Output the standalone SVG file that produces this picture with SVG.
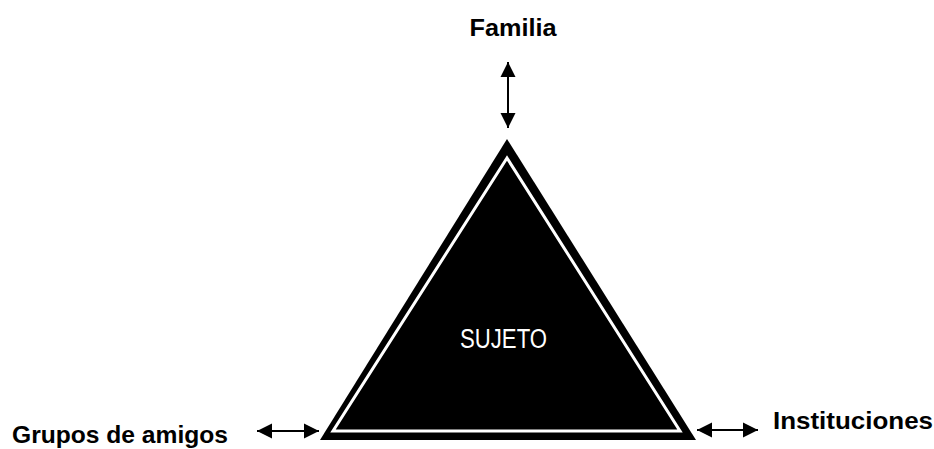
<svg xmlns="http://www.w3.org/2000/svg" width="934" height="449" viewBox="0 0 934 449">
<style>
.lbl{font-family:"Liberation Sans",Arial,sans-serif;font-weight:bold;font-size:24px;fill:#000}
.conn{stroke:#000;stroke-width:2;fill:none}
</style>
<defs>
<marker id="ah" viewBox="0 0 10 10" refX="10" refY="5" markerWidth="7.5" markerHeight="8" markerUnits="strokeWidth" orient="auto-start-reverse">
<path d="M0,0 L10,5 L0,10 z" fill="#000"/>
</marker>
</defs>
<rect width="934" height="449" fill="#fff"/>
<g id="sujeto">
<polygon points="507,139 320,440 696,440" fill="#000"/>
<polygon points="507,158 333,431 680,431" fill="#000" stroke="#fff" stroke-width="3"/>
<text x="503.5" y="348" text-anchor="middle" font-family="Liberation Sans,Arial,sans-serif" font-size="27" fill="#fff" textLength="87" lengthAdjust="spacingAndGlyphs">SUJETO</text>
</g>
<g id="familia">
<text class="lbl" x="513" y="36" text-anchor="middle" textLength="87" lengthAdjust="spacingAndGlyphs">Familia</text>
</g>
<g id="grupos">
<text class="lbl" x="12" y="443" textLength="216" lengthAdjust="spacingAndGlyphs">Grupos de amigos</text>
</g>
<g id="instituciones">
<text class="lbl" x="773" y="429" textLength="160" lengthAdjust="spacingAndGlyphs">Instituciones</text>
</g>
<g id="connectors">
<line class="conn" x1="508" y1="62" x2="508" y2="128" marker-start="url(#ah)" marker-end="url(#ah)"/>
<line class="conn" x1="257" y1="431" x2="319" y2="431" marker-start="url(#ah)" marker-end="url(#ah)"/>
<line class="conn" x1="697" y1="430" x2="758" y2="430" marker-start="url(#ah)" marker-end="url(#ah)"/>
</g>
</svg>
